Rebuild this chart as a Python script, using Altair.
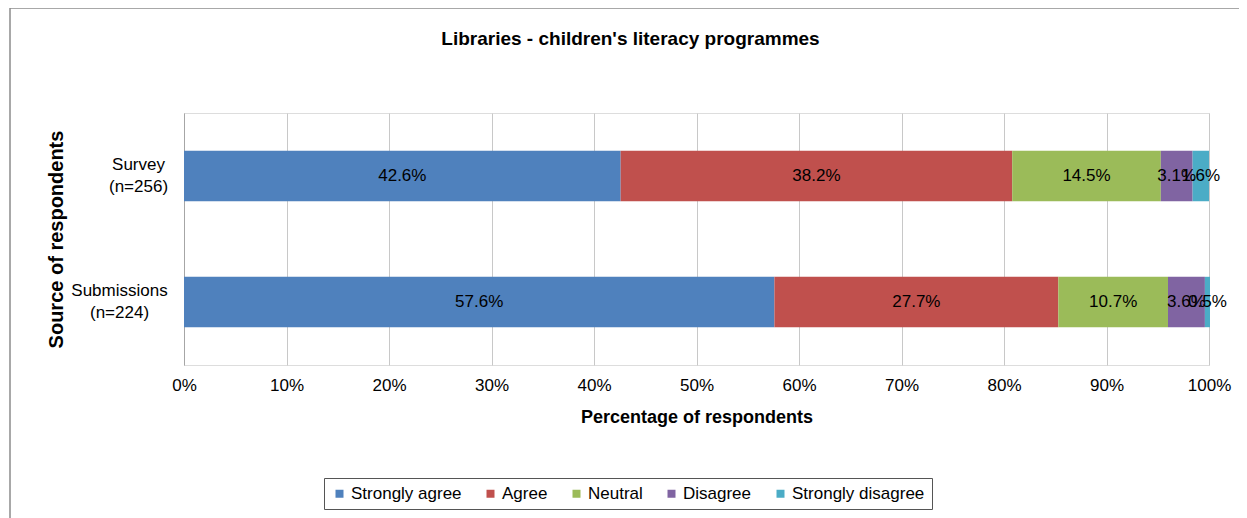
import altair as alt
import pandas as pd

sources = ["Survey\n(n=256)", "Submissions\n(n=224)"]
categories = ["Strongly agree", "Agree", "Neutral", "Disagree", "Strongly disagree"]
colors = ["#4F81BD", "#C0504D", "#9BBB59", "#8064A2", "#4BACC6"]
survey_values = [42.6, 38.2, 14.5, 3.1, 1.6]
submission_values = [57.6, 27.7, 10.7, 3.6, 0.5]

rows = []
for src, vals in zip(sources, [survey_values, submission_values]):
    for i, (cat, v) in enumerate(zip(categories, vals)):
        rows.append({"source": src, "category": cat, "order": i, "value": v})
df = pd.DataFrame(rows)

FONT = "Liberation Sans"

base = alt.Chart(df).transform_stack(
    stack="value", groupby=["source"], as_=["v0", "v1"],
    sort=[alt.SortField("order", order="ascending")]
).transform_calculate(
    mid="(datum.v0 + datum.v1) / 2",
    label="format(datum.value, '.1f') + '%'"
)

yenc = alt.Y(
    "source:N", sort=sources, title="Source of respondents",
    scale=alt.Scale(paddingInner=0.6, paddingOuter=0.3),
    axis=alt.Axis(
        labelExpr="split(datum.label, '\\n')",
        labelFontSize=17, labelFont=FONT, labelColor="#000000",
        labelAlign="center", labelBaseline="middle", labelLineHeight=22,
        labelOffset=-11,
        labelPadding={"condition": {"test": "indexof(datum.value, 'Survey') >= 0", "value": 46}, "value": 65},
        titleFontSize=20, titleFont=FONT, titleFontWeight="bold", titleColor="#000000",
        titlePadding=4,
        domainColor="#a6a6a6", ticks=False,
        grid=False,
    ),
)

bars = base.mark_bar().encode(
    x=alt.X(
        "v0:Q", title="Percentage of respondents",
        scale=alt.Scale(domain=[0, 100], nice=False),
        axis=alt.Axis(
            values=[0, 10, 20, 30, 40, 50, 60, 70, 80, 90, 100],
            labelExpr="datum.value + '%'",
            labelFlush=False,
            labelFontSize=17, labelFont=FONT, labelColor="#000000", labelPadding=12,
            titleFontSize=18, titleFont=FONT, titleFontWeight="bold", titleColor="#000000",
            titlePadding=15,
            grid=True, gridColor="#c8c8c8", domain=False, ticks=False,
        ),
    ),
    x2="v1:Q",
    y=yenc,
    color=alt.Color(
        "category:N", sort=categories,
        scale=alt.Scale(domain=categories, range=colors),
        legend=alt.Legend(
            title=None, orient="none", direction="horizontal",
            legendX=140, legendY=365,
            symbolType="square", symbolSize=64, symbolStrokeWidth=0,
            labelFontSize=17, labelFont=FONT, labelColor="#000000",
            columnPadding=20, symbolOffset=0, labelOffset=3,
            strokeColor="#555555", padding=7,
        ),
    ),
)

texts = base.mark_text(fontSize=17, font=FONT, color="#000000").encode(
    x=alt.X("mid:Q"),
    y=alt.Y("source:N", sort=sources),
    text="label:N",
)

frame = alt.Chart(pd.DataFrame({"a": [0]})).mark_rect(
    fill=None, stroke="#8c8c8c", strokeWidth=1.5, clip=False
).encode(
    x=alt.value(-174), x2=alt.value(1056),
    y=alt.value(-105), y2=alt.value(420),
)

chart = alt.layer(frame, bars, texts).properties(
    width=1025, height=252,
    title=alt.TitleParams(
        "Libraries - children's literacy programmes",
        fontSize=19, font=FONT, fontWeight="bold", color="#000000",
        anchor="middle", frame="group", offset=-42, dx=-66,
    ),
    autosize=alt.AutoSizeParams(type="none"),
    padding={"left": 176, "top": 105, "right": 30, "bottom": 153},
).configure_view(stroke=None).configure(background="#ffffff")

chart.save("out.html", embed_options={"renderer": "svg", "actions": False})
